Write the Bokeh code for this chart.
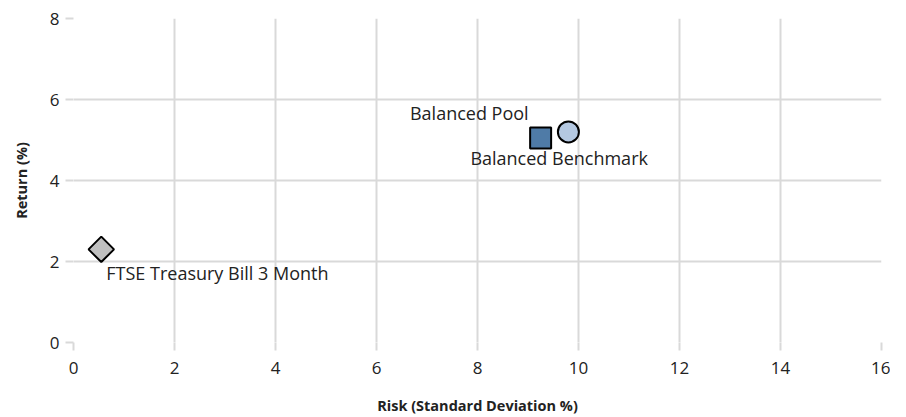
import math
from bokeh.plotting import figure
from bokeh.models import ColumnDataSource, Range1d, FixedTicker, LabelSet
from bokeh.core.properties import value
from bokeh.embed import file_html
from bokeh.resources import INLINE

names = ["Balanced Pool", "Balanced Benchmark", "FTSE Treasury Bill 3 Month"]
risk = [9.25, 9.8, 0.55]
ret = [5.05, 5.2, 2.3]
x_ticks = [0, 2, 4, 6, 8, 10, 12, 14, 16]
y_ticks = [0, 2, 4, 6, 8]

FONT = "Open Sans"

p = figure(width=890, height=417, output_backend="svg", toolbar_location=None,
           x_range=Range1d(0, 16), y_range=Range1d(0, 8),
           min_border_left=73, min_border_right=9, min_border_top=18, min_border_bottom=75)
p.outline_line_color = None
p.background_fill_color = "white"
p.border_fill_color = "white"

for ax in (p.xaxis[0], p.yaxis[0]):
    ax.axis_line_color = None
    ax.major_tick_line_color = "#d9d9d9"
    ax.major_tick_line_width = 2
    ax.major_tick_out = 8
    ax.major_tick_in = 0
    ax.minor_tick_line_color = None
    ax.major_label_text_font = FONT
    ax.major_label_text_font_size = "17px"
    ax.major_label_text_color = "#222222"
    ax.axis_label_text_font = FONT
    ax.axis_label_text_font_size = "14.5px"
    ax.axis_label_text_font_style = "bold"
    ax.axis_label_text_color = "#222222"

p.xaxis.ticker = FixedTicker(ticks=x_ticks)
p.yaxis.ticker = FixedTicker(ticks=y_ticks)
p.xaxis.axis_label = "Risk (Standard Deviation %)"
p.yaxis.axis_label = "Return (%)"
p.xaxis.major_label_standoff = 11
p.yaxis.major_label_standoff = 6
p.xaxis.axis_label_standoff = 19
p.yaxis.axis_label_standoff = 16

p.xgrid.ticker = FixedTicker(ticks=x_ticks)
p.ygrid.ticker = FixedTicker(ticks=y_ticks)
p.grid.grid_line_color = "#d9d9d9"
p.grid.grid_line_width = 2

src_pool = ColumnDataSource(dict(x=[risk[0]], y=[ret[0]], t=[names[0]]))
src_bench = ColumnDataSource(dict(x=[risk[1]], y=[ret[1]], t=[names[1]]))
src_tb = ColumnDataSource(dict(x=[risk[2]], y=[ret[2]], t=[names[2]]))

p.scatter("x", "y", source=src_pool, marker="square", size=21,
          fill_color="#4f7ba7", line_color="black", line_width=2)
p.scatter("x", "y", source=src_bench, marker="circle", size=21,
          fill_color="#b4c8e1", line_color="black", line_width=2)
p.scatter("x", "y", source=src_tb, marker="square", size=18, angle=math.pi / 4,
          fill_color="#c0c0c0", line_color="black", line_width=2)

common = dict(text_font=value(FONT), text_font_size=value("18px"), text_color="#222222",
              text_baseline="middle")
p.add_layout(LabelSet(x="x", y="y", text="t", source=src_pool, x_offset=-12, y_offset=25,
                      text_align="right", **common))
p.add_layout(LabelSet(x="x", y="y", text="t", source=src_bench, x_offset=-98, y_offset=-26,
                      text_align="left", **common))
p.add_layout(LabelSet(x="x", y="y", text="t", source=src_tb, x_offset=5, y_offset=-24,
                      text_align="left", **common))

open("out.html", "w").write(file_html(p, INLINE))
